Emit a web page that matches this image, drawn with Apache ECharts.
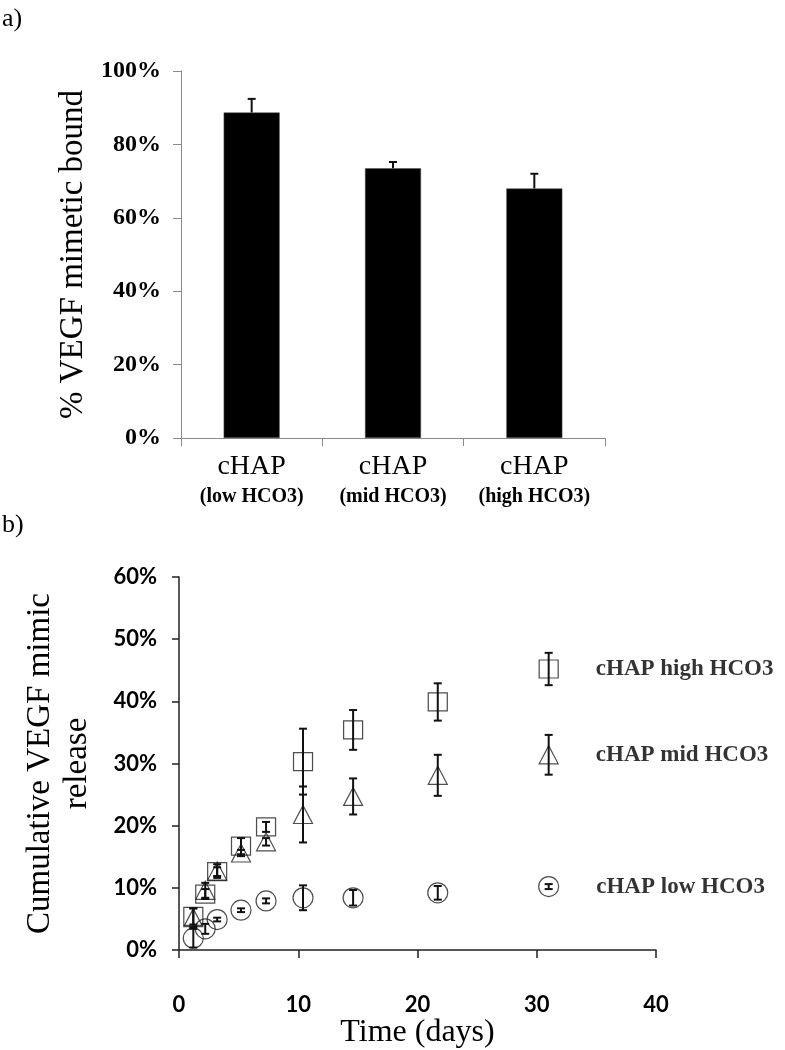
<!DOCTYPE html>
<html>
<head>
<meta charset="utf-8">
<script src="https://cdn.jsdelivr.net/npm/echarts@6/dist/echarts.min.js"></script>
<style>
  html, body { margin: 0; padding: 0; background: #fff; }
  #chart { width: 785px; height: 1050px; }
</style>
</head>
<body>
<div id="chart"></div>
<script>
// ---------- Panel a) data ----------
const categories = ['cHAP (low HCO3)', 'cHAP (mid HCO3)', 'cHAP (high HCO3)'];
const boundValues = [88.7, 73.5, 68.0];
const boundErrors = [3.7, 1.7, 4.0];
const yTicksA = [0, 20, 40, 60, 80, 100];

// ---------- Panel b) data ----------
const days = [1.2, 2.2, 3.2, 5.2, 7.3, 10.4, 14.6, 21.7, 31.0];
const seriesNames = ['cHAP high HCO3', 'cHAP mid HCO3', 'cHAP low HCO3'];
const highValues = [5.4, 9.0, 12.6, 16.7, 19.8, 30.3, 35.4, 39.9, 45.2];
const highErrors = [1.3, 0.8, 0.7, 1.3, 0.8, 5.3, 3.2, 3.0, 2.6];
const midValues  = [5.2, 9.6, 12.7, 15.6, 17.4, 21.8, 24.7, 28.1, 31.4];
const midErrors  = [1.5, 1.2, 1.1, 0.5, 0.6, 4.5, 2.9, 3.3, 3.2];
const lowValues  = [1.9, 3.4, 4.9, 6.4, 7.9, 8.4, 8.4, 9.2, 10.2];
const lowErrors  = [1.5, 0.8, 0.3, 0.3, 0.4, 2.0, 1.25, 1.1, 0.4];
const xTicksB = [0, 10, 20, 30, 40];
const yTicksB = [0, 10, 20, 30, 40, 50, 60];

const serif = '"Liberation Serif", "Times New Roman", serif';
const sans = 'Lato, "Open Sans", sans-serif';

const chart = echarts.init(document.getElementById('chart'), null, { renderer: 'canvas' });

function upErrorRender(params, api) {
  const x = api.value(0), v = api.value(1), e = api.value(2);
  const p0 = api.coord([x, v]);
  const p1 = api.coord([x, v + e]);
  const cap = 4;
  return {
    type: 'group',
    children: [
      { type: 'line', shape: { x1: p0[0], y1: p0[1], x2: p1[0], y2: p1[1] }, style: { stroke: '#111', lineWidth: 2 } },
      { type: 'line', shape: { x1: p1[0] - cap, y1: p1[1], x2: p1[0] + cap, y2: p1[1] }, style: { stroke: '#111', lineWidth: 2 } }
    ]
  };
}

function bothErrorRender(params, api) {
  const x = api.value(0), v = api.value(1), e = api.value(2);
  const pt = api.coord([x, v + e]);
  const pb = api.coord([x, v - e]);
  const cap = 4;
  return {
    type: 'group',
    children: [
      { type: 'line', shape: { x1: pt[0], y1: pt[1], x2: pb[0], y2: pb[1] }, style: { stroke: '#111', lineWidth: 2 } },
      { type: 'line', shape: { x1: pt[0] - cap, y1: pt[1], x2: pt[0] + cap, y2: pt[1] }, style: { stroke: '#111', lineWidth: 2 } },
      { type: 'line', shape: { x1: pb[0] - cap, y1: pb[1], x2: pb[0] + cap, y2: pb[1] }, style: { stroke: '#111', lineWidth: 2 } }
    ]
  };
}

function scatterData(vals, name) {
  return days.map((d, i) => {
    const item = { value: [d, vals[i]] };
    if (i === days.length - 1) {
      item.label = {
        show: true, position: 'right', distance: 37,
        formatter: name,
        fontFamily: serif, fontWeight: 'bold', fontSize: 23, color: '#000'
      };
    }
    return item;
  });
}

function errData(vals, errs) {
  return days.map((d, i) => [d, vals[i], errs[i]]);
}

const markerStyle = { color: 'rgba(0,0,0,0)', borderColor: '#222', borderWidth: 1.2 };

const option = {
  animation: false,
  backgroundColor: '#fff',
  graphic: [
    { type: 'text', left: 2, top: 6, style: { text: 'a)', font: '26px ' + serif, fill: '#000' } },
    { type: 'text', left: 2, top: 512, style: { text: 'b)', font: '26px ' + serif, fill: '#000' } }
  ],
  grid: [
    { left: 181, right: 180, top: 71, height: 367 },
    { left: 179, right: 129, top: 577, height: 378.5 }
  ],
  xAxis: [
    {
      gridIndex: 0, type: 'category', data: categories,
      axisLine: { lineStyle: { color: '#8a8a8a', width: 1 } },
      axisTick: { show: true, length: 8, lineStyle: { color: '#8a8a8a' } },
      axisLabel: {
        margin: 13, color: '#000',
        formatter: function (v) {
          const k = v.indexOf(' ');
          return '{a|' + v.slice(0, k) + '}\n{b|' + v.slice(k + 1) + '}';
        },
        rich: {
          a: { fontFamily: serif, fontSize: 28, lineHeight: 32, color: '#000' },
          b: { fontFamily: serif, fontSize: 20, fontWeight: 'bold', lineHeight: 28, color: '#000' }
        }
      },
      splitLine: { show: false }
    },
    {
      gridIndex: 1, type: 'value', min: 0, max: 40, interval: 10,
      axisLine: { onZero: false, lineStyle: { color: '#222', width: 1.5 } },
      axisTick: { show: true, length: 8, lineStyle: { color: '#222', width: 1.5 } },
      axisLabel: { margin: 44, fontFamily: sans, fontWeight: 'bold', fontSize: 22, color: '#000' },
      splitLine: { show: false },
      name: 'Time (days)', nameLocation: 'middle', nameGap: 67,
      nameTextStyle: { fontFamily: serif, fontSize: 32, color: '#000' }
    }
  ],
  yAxis: [
    {
      gridIndex: 0, type: 'value', min: 0, max: 100, interval: 20,
      axisLine: { show: true, lineStyle: { color: '#8a8a8a', width: 1 } },
      axisTick: { show: true, length: 8, lineStyle: { color: '#8a8a8a' } },
      axisLabel: { margin: 20, formatter: '{value}%', fontFamily: serif, fontWeight: 'bold', fontSize: 24, color: '#000' },
      splitLine: { show: false },
      name: '% VEGF mimetic bound', nameLocation: 'middle', nameRotate: 90, nameGap: 77,
      nameTextStyle: { fontFamily: serif, fontSize: 33, color: '#000' }
    },
    {
      gridIndex: 1, type: 'value', min: 0, max: 60, interval: 10,
      axisLine: { show: true, onZero: false, lineStyle: { color: '#222', width: 1.5 } },
      axisTick: { show: true, length: 7, lineStyle: { color: '#222', width: 1.5 } },
      axisLabel: { margin: 22, formatter: '{value}%', fontFamily: sans, fontWeight: 'bold', fontSize: 22, color: '#000' },
      splitLine: { show: false },
      name: 'Cumulative VEGF mimic\nrelease', nameLocation: 'middle', nameRotate: 90, nameGap: 83,
      nameTextStyle: { fontFamily: serif, fontSize: 33, lineHeight: 37, color: '#000' }
    }
  ],
  series: [
    {
      type: 'bar', xAxisIndex: 0, yAxisIndex: 0, data: boundValues, barWidth: 56,
      itemStyle: { color: '#000', borderColor: '#555', borderWidth: 0.5 }
    },
    {
      type: 'custom', xAxisIndex: 0, yAxisIndex: 0,
      data: boundValues.map((v, i) => [i, v, boundErrors[i]]),
      renderItem: upErrorRender, z: 5
    },
    {
      name: seriesNames[0], type: 'scatter', xAxisIndex: 1, yAxisIndex: 1,
      symbol: 'rect', symbolSize: [19, 18], itemStyle: markerStyle,
      data: scatterData(highValues, seriesNames[0])
    },
    {
      name: seriesNames[1], type: 'scatter', xAxisIndex: 1, yAxisIndex: 1,
      symbol: 'triangle', symbolSize: [19, 18], itemStyle: markerStyle,
      data: scatterData(midValues, seriesNames[1])
    },
    {
      name: seriesNames[2], type: 'scatter', xAxisIndex: 1, yAxisIndex: 1,
      symbol: 'circle', symbolSize: 20, itemStyle: markerStyle,
      data: scatterData(lowValues, seriesNames[2])
    },
    { type: 'custom', xAxisIndex: 1, yAxisIndex: 1, data: errData(highValues, highErrors), renderItem: bothErrorRender, z: 5 },
    { type: 'custom', xAxisIndex: 1, yAxisIndex: 1, data: errData(midValues, midErrors), renderItem: bothErrorRender, z: 5 },
    { type: 'custom', xAxisIndex: 1, yAxisIndex: 1, data: errData(lowValues, lowErrors), renderItem: bothErrorRender, z: 5 }
  ]
};

chart.setOption(option);
</script>
</body>
</html>
